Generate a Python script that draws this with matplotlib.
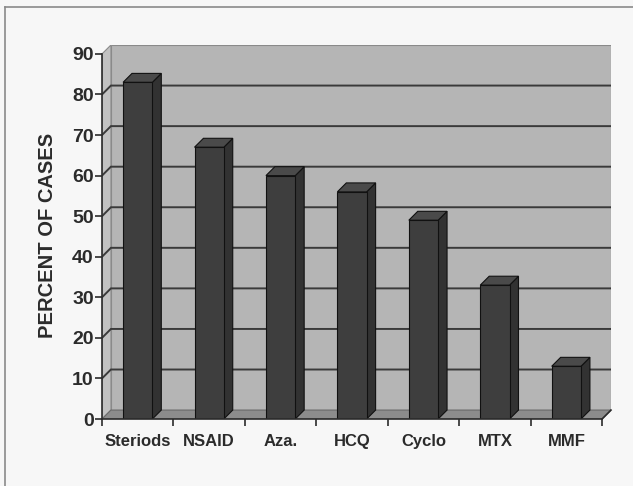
import matplotlib

matplotlib.use("Agg")
import matplotlib.pyplot as plt
from matplotlib.lines import Line2D
from matplotlib.patches import Polygon, Rectangle

categories = ["Steriods", "NSAID", "Aza.", "HCQ", "Cyclo", "MTX", "MMF"]
percent = [83, 67, 60, 56, 49, 33, 13]
y_ticks = [0, 10, 20, 30, 40, 50, 60, 70, 80, 90]

# depth offset of the fake 3-D box (data units)
ddx, ddy = 0.125, 2.2
bar_w = 0.41
n = len(categories)
ymax = 90

wall = "#b5b5b5"
side_wall = "#c2c2c2"
floor = "#8c8c8c"
grid = "#3a3a3a"
txt = "#2b2b2b"

plt.rcParams["font.family"] = ["Liberation Sans", "DejaVu Sans"]

fig = plt.figure(figsize=(6.33, 4.86), dpi=100, facecolor="#f7f7f7")
W, H = 633, 486
ax = fig.add_axes([102 / W, (H - 419) / H, (611 - 102) / W, (419 - 45) / H])
ax.set_facecolor("none")
ax.set_xlim(0, n + ddx)
ax.set_ylim(0, ymax + ddy)

# walls and floor
ax.add_patch(Rectangle((ddx, ddy), n, ymax, fc=wall, ec="#8a8a8a", lw=0.8, zorder=0))
ax.add_patch(Polygon([(0, 0), (ddx, ddy), (ddx, ymax + ddy), (0, ymax)],
                     fc=side_wall, ec="#8a8a8a", lw=0.8, zorder=0))
ax.add_patch(Polygon([(0, 0), (n, 0), (n + ddx, ddy), (ddx, ddy)],
                     fc=floor, ec="#6a6a6a", lw=0.8, zorder=1))

# gridlines on side wall and back wall
for v in y_ticks[1:-1]:
    ax.plot([0, ddx, n + ddx], [v, v + ddy, v + ddy], color=grid, lw=1.4, zorder=1,
            solid_joinstyle="miter")

# bars
for i, v in enumerate(percent):
    x0 = i + 0.5 - bar_w / 2
    x1 = x0 + bar_w
    ax.add_patch(Polygon([(x1, 0), (x1 + ddx, ddy), (x1 + ddx, v + ddy), (x1, v)],
                         fc="#323232", ec="#111111", lw=0.8, zorder=3))
    ax.add_patch(Polygon([(x0, v), (x1, v), (x1 + ddx, v + ddy), (x0 + ddx, v + ddy)],
                         fc="#4a4a4a", ec="#111111", lw=0.8, zorder=3))
    ax.add_patch(Rectangle((x0, 0), bar_w, v, fc="#3e3e3e", ec="#111111", lw=0.8, zorder=4))

# axes
for s in ["top", "right"]:
    ax.spines[s].set_visible(False)
ax.spines["left"].set_bounds(0, ymax)
ax.spines["bottom"].set_bounds(0, n)
for s in ["left", "bottom"]:
    ax.spines[s].set_color(txt)
    ax.spines[s].set_linewidth(1.2)
    ax.spines[s].set_zorder(5)
ax.plot([n, n + ddx], [0, ddy], color=txt, lw=1.2, zorder=5, clip_on=False)

ax.set_yticks(y_ticks)
ax.set_yticklabels([str(t) for t in y_ticks], fontsize=14, fontweight="bold", color=txt)
ax.set_xticks(range(n + 1))
ax.set_xticklabels([])
ax.set_xticks([i + 0.5 for i in range(n)], minor=True)
ax.set_xticklabels(categories, minor=True, fontsize=12, fontweight="bold", color=txt)
ax.tick_params(axis="both", which="major", direction="out", length=5, width=1.2, color=txt)
ax.tick_params(axis="y", pad=1)
ax.tick_params(axis="x", which="minor", length=0, pad=11)

ax.set_ylabel("PERCENT OF CASES", fontsize=14.5, fontweight="bold", color=txt)
ax.yaxis.set_label_coords((57 - 102) / (611 - 102), (419 - 235) / (419 - 45))

# scanned frame
fig.add_artist(Line2D([5 / W, 1], [1 - 7 / H, 1 - 7 / H], color="#8a8a8a", lw=1.2))
fig.add_artist(Line2D([5 / W, 5 / W], [0, 1 - 7 / H], color="#8a8a8a", lw=1.2))

fig.savefig("out.png", dpi=100, facecolor=fig.get_facecolor())
